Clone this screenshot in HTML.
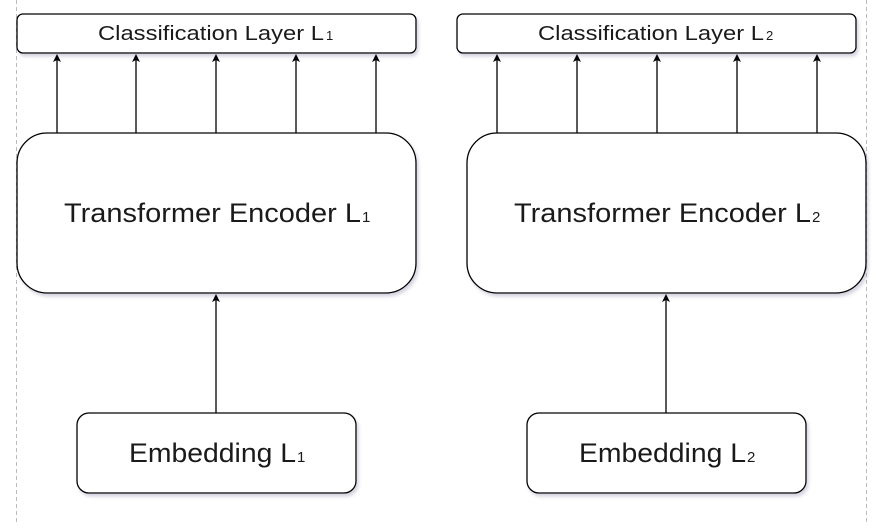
<!DOCTYPE html>
<html><head><style>body{margin:0;background:#fff}</style></head><body>
<svg width="888" height="523" xmlns="http://www.w3.org/2000/svg" font-family="Liberation Sans, sans-serif" fill="#1a1a1a">
<defs><filter id="s"><feDropShadow dx="2" dy="3" stdDeviation="1.5" flood-color="#8888aa" flood-opacity="0.35"/></filter></defs>
<line x1="16.5" y1="0" x2="16.5" y2="523" stroke="#bbb" stroke-dasharray="4,3"/>
<line x1="866.5" y1="0" x2="866.5" y2="523" stroke="#bbb" stroke-dasharray="4,3"/>
<g fill="#fff" stroke="#000" stroke-width="1.3" filter="url(#s)">
<rect x="17" y="14" width="399" height="39" rx="6"/>
<rect x="457" y="14" width="399" height="39" rx="6"/>
<rect x="17" y="133" width="399" height="160" rx="30"/>
<rect x="467" y="133" width="399" height="160" rx="30"/>
<rect x="77" y="413" width="279" height="80" rx="12"/>
<rect x="527" y="413" width="279" height="80" rx="12"/>
</g>
<g stroke="#000" stroke-width="1.3">
<line x1="57" y1="133" x2="57" y2="60"/><line x1="136" y1="133" x2="136" y2="60"/><line x1="216" y1="133" x2="216" y2="60"/><line x1="296" y1="133" x2="296" y2="60"/><line x1="376" y1="133" x2="376" y2="60"/>
<line x1="497" y1="133" x2="497" y2="60"/><line x1="577" y1="133" x2="577" y2="60"/><line x1="657" y1="133" x2="657" y2="60"/><line x1="737" y1="133" x2="737" y2="60"/><line x1="817" y1="133" x2="817" y2="60"/>
<line x1="216" y1="413" x2="216" y2="300"/><line x1="666" y1="413" x2="666" y2="300"/>
</g>
<g fill="#000">
<path d="M57,54 l-4,8 l4,-2 l4,2z"/><path d="M136,54 l-4,8 l4,-2 l4,2z"/><path d="M216,54 l-4,8 l4,-2 l4,2z"/><path d="M296,54 l-4,8 l4,-2 l4,2z"/><path d="M376,54 l-4,8 l4,-2 l4,2z"/>
<path d="M497,54 l-4,8 l4,-2 l4,2z"/><path d="M577,54 l-4,8 l4,-2 l4,2z"/><path d="M657,54 l-4,8 l4,-2 l4,2z"/><path d="M737,54 l-4,8 l4,-2 l4,2z"/><path d="M817,54 l-4,8 l4,-2 l4,2z"/>
<path d="M216,294 l-4,8 l4,-2 l4,2z"/><path d="M666,294 l-4,8 l4,-2 l4,2z"/>
</g>
<g fill="#1a1a1a">
<text x="98" y="40" font-size="20" textLength="226" lengthAdjust="spacingAndGlyphs">Classification Layer L</text><text x="326" y="40" font-size="13">1</text>
<text x="538" y="40" font-size="20" textLength="226" lengthAdjust="spacingAndGlyphs">Classification Layer L</text><text x="766" y="40" font-size="13">2</text>
<text x="64" y="222" font-size="27" textLength="297" lengthAdjust="spacingAndGlyphs">Transformer Encoder L</text><text x="362" y="222" font-size="15">1</text>
<text x="514" y="222" font-size="27" textLength="297" lengthAdjust="spacingAndGlyphs">Transformer Encoder L</text><text x="812" y="222" font-size="15">2</text>
<text x="129" y="462" font-size="27" textLength="167" lengthAdjust="spacingAndGlyphs">Embedding L</text><text x="297" y="462" font-size="15">1</text>
<text x="579" y="462" font-size="27" textLength="167" lengthAdjust="spacingAndGlyphs">Embedding L</text><text x="747" y="462" font-size="15">2</text>
</g>
</svg>
</body></html>
